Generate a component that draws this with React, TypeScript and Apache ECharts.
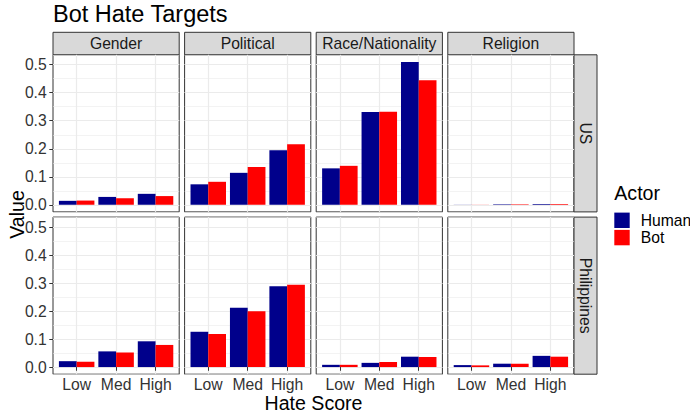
import React, { useEffect, useRef } from 'react';
import * as echarts from 'echarts';

// ---- data ----
const scores = ['Low', 'Med', 'High'];
const targets = ['Gender', 'Political', 'Race/Nationality', 'Religion'];
const countries = ['US', 'Philippines'];
const actors = ['Human', 'Bot'];
const yTicks = [0, 0.1, 0.2, 0.3, 0.4, 0.5];

// rows: targets (Gender, Political, Race/Nationality, Religion); columns: Low, Med, High
const usHuman = [
  [0.014, 0.028, 0.039],
  [0.073, 0.114, 0.195],
  [0.130, 0.331, 0.510],
  [0.0004, 0.0018, 0.0025],
];
const usBot = [
  [0.015, 0.023, 0.031],
  [0.082, 0.135, 0.216],
  [0.139, 0.332, 0.445],
  [0.0004, 0.0018, 0.0025],
];
const phHuman = [
  [0.021, 0.056, 0.092],
  [0.126, 0.212, 0.289],
  [0.008, 0.015, 0.037],
  [0.007, 0.012, 0.040],
];
const phBot = [
  [0.019, 0.052, 0.079],
  [0.118, 0.199, 0.294],
  [0.008, 0.018, 0.036],
  [0.006, 0.012, 0.037],
];

const actorColors = ['#00008B', '#FF0000'];

// ---- layout ----
const FONT = "'Liberation Sans', Arial, Helvetica, sans-serif";
const PANEL_LEFT = 53;
const PANEL_W = 126.2;
const GAP_X = 5.4;
const ROW_TOPS = [54.8, 217.1];
const PANEL_H = 157.1;
const STRIP_TOP = 32.3;
const STRIP_H = 22.5;
const STRIP_W = 23;
const BAR_W = 17.75;
const Y_MIN = -0.0255;
const Y_MAX = 0.5355;
const SMALL = 15.7;
const MID = 19.6;
const BIG = 23.5;

export default function App() {
  const ref = useRef<HTMLDivElement>(null);

  useEffect(() => {
    document.body.style.margin = '0';
    if (!ref.current) return;
    const chart = echarts.init(ref.current, null, { renderer: 'svg' });

    const grids: any[] = [];
    const xAxes: any[] = [];
    const yMajor: any[] = [];
    const yMinor: any[] = [];
    const series: any[] = [];
    const graphics: any[] = [];
    const rowData = [
      [usHuman, usBot],
      [phHuman, phBot],
    ];

    countries.forEach((country, r) => {
      targets.forEach((target, c) => {
        const g = r * targets.length + c;
        const left = PANEL_LEFT + c * (PANEL_W + GAP_X);
        const top = ROW_TOPS[r];
        grids.push({
          left,
          top,
          width: PANEL_W,
          height: PANEL_H,
          show: true,
          backgroundColor: '#fff',
          borderColor: '#333',
          borderWidth: 1,
          containLabel: false,
          outerBoundsMode: 'none',
        });
        xAxes.push({
          type: 'value',
          gridIndex: g,
          min: 0.4,
          max: 3.6,
          minInterval: 1,
          maxInterval: 1,
          splitNumber: 3,
          axisLine: { show: false },
          axisTick: {
            show: r === 1,
            length: 3.7,
            customValues: [1, 2, 3],
            lineStyle: { color: '#333', width: 1 },
          },
          axisLabel: {
            show: r === 1,
            customValues: [1, 2, 3],
            fontSize: SMALL,
            fontFamily: FONT,
            color: '#333',
            margin: 2.5,
            formatter: (v: number) =>
              Math.abs(v - Math.round(v)) < 1e-6 ? scores[Math.round(v) - 1] ?? '' : '',
          },
          splitLine: { show: true, lineStyle: { color: '#EBEBEB', width: 1.2 } },
        });
        yMajor.push({
          type: 'value',
          gridIndex: g,
          min: Y_MIN,
          max: Y_MAX,
          minInterval: 0.1,
          maxInterval: 0.1,
          splitNumber: 5,
          axisLine: { show: false },
          axisTick: {
            show: c === 0,
            length: 3.7,
            customValues: yTicks,
            lineStyle: { color: '#333', width: 1 },
          },
          axisLabel: {
            show: c === 0,
            customValues: yTicks,
            fontSize: SMALL,
            fontFamily: FONT,
            color: '#333',
            margin: 6.3,
            formatter: (v: number) =>
              Math.abs(v * 10 - Math.round(v * 10)) < 1e-6 && v > -1e-9 ? v.toFixed(1) : '',
          },
          splitLine: { show: true, lineStyle: { color: '#EBEBEB', width: 1.2 } },
        });
        yMinor.push({
          type: 'value',
          gridIndex: g,
          min: Y_MIN,
          max: Y_MAX,
          minInterval: 0.05,
          maxInterval: 0.05,
          splitNumber: 10,
          position: 'left',
          axisLine: { show: false },
          axisTick: { show: false },
          axisLabel: { show: false },
          splitLine: { show: true, lineStyle: { color: '#EBEBEB', width: 0.6 } },
        });

        actors.forEach((actor, a) => {
          const vals = rowData[r][a][c];
          series.push({
            type: 'bar',
            name: actor,
            xAxisIndex: g,
            yAxisIndex: g,
            barWidth: BAR_W,
            barGap: '0%',
            itemStyle: { color: actorColors[a] },
            data: scores.map((s, i) => [i + 1, vals[i]]),
          });
        });

        if (r === 0) {
          graphics.push({
            type: 'rect',
            shape: { x: left, y: STRIP_TOP, width: PANEL_W, height: STRIP_H },
            style: { fill: '#D9D9D9', stroke: '#333', lineWidth: 1 },
          });
          graphics.push({
            type: 'text',
            x: left + PANEL_W / 2,
            y: STRIP_TOP + STRIP_H / 2,
            style: {
              text: target,
              fontSize: SMALL,
              fontFamily: FONT,
              fill: '#1A1A1A',
              textAlign: 'center',
              textVerticalAlign: 'middle',
            },
          });
        }
        if (c === targets.length - 1) {
          const sx = left + PANEL_W;
          graphics.push({
            type: 'rect',
            shape: { x: sx, y: top, width: STRIP_W, height: PANEL_H },
            style: { fill: '#D9D9D9', stroke: '#333', lineWidth: 1 },
          });
          graphics.push({
            type: 'text',
            x: sx + STRIP_W / 2,
            y: top + PANEL_H / 2,
            rotation: -Math.PI / 2,
            style: {
              text: country,
              fontSize: SMALL,
              fontFamily: FONT,
              fill: '#1A1A1A',
              textAlign: 'center',
              textVerticalAlign: 'middle',
            },
          });
        }
      });
    });

    const panelsRight = PANEL_LEFT + 4 * PANEL_W + 3 * GAP_X;

    graphics.push(
      {
        type: 'text',
        x: PANEL_LEFT,
        y: 14,
        style: {
          text: 'Bot Hate Targets',
          fontSize: BIG,
          fontFamily: FONT,
          fill: '#000',
          textAlign: 'left',
          textVerticalAlign: 'middle',
        },
      },
      {
        type: 'text',
        x: 17,
        y: (ROW_TOPS[0] + ROW_TOPS[1] + PANEL_H) / 2,
        rotation: Math.PI / 2,
        style: {
          text: 'Value',
          fontSize: MID,
          fontFamily: FONT,
          fill: '#000',
          textAlign: 'center',
          textVerticalAlign: 'middle',
        },
      },
      {
        type: 'text',
        x: (PANEL_LEFT + panelsRight) / 2,
        y: 403,
        style: {
          text: 'Hate Score',
          fontSize: MID,
          fontFamily: FONT,
          fill: '#000',
          textAlign: 'center',
          textVerticalAlign: 'middle',
        },
      },
      {
        type: 'text',
        x: 614.3,
        y: 193,
        style: {
          text: 'Actor',
          fontSize: MID,
          fontFamily: FONT,
          fill: '#000',
          textAlign: 'left',
          textVerticalAlign: 'middle',
        },
      }
    );

    chart.setOption({
      animation: false,
      backgroundColor: '#fff',
      textStyle: { fontFamily: FONT },
      legend: {
        data: actors,
        orient: 'vertical',
        left: 614.3,
        top: 212.3,
        itemWidth: 15.4,
        itemHeight: 15.4,
        itemGap: 1.3,
        icon: 'rect',
        selectedMode: false,
        padding: 0,
        textStyle: {
          fontSize: SMALL,
          fontFamily: FONT,
          color: '#000',
          padding: [0, 0, 0, 6],
        },
      },
      grid: grids,
      xAxis: xAxes,
      yAxis: [...yMajor, ...yMinor],
      series,
      graphic: { elements: graphics },
    });

    return () => {
      chart.dispose();
    };
  }, []);

  return <div ref={ref} style={{ width: 690, height: 420 }} />;
}
